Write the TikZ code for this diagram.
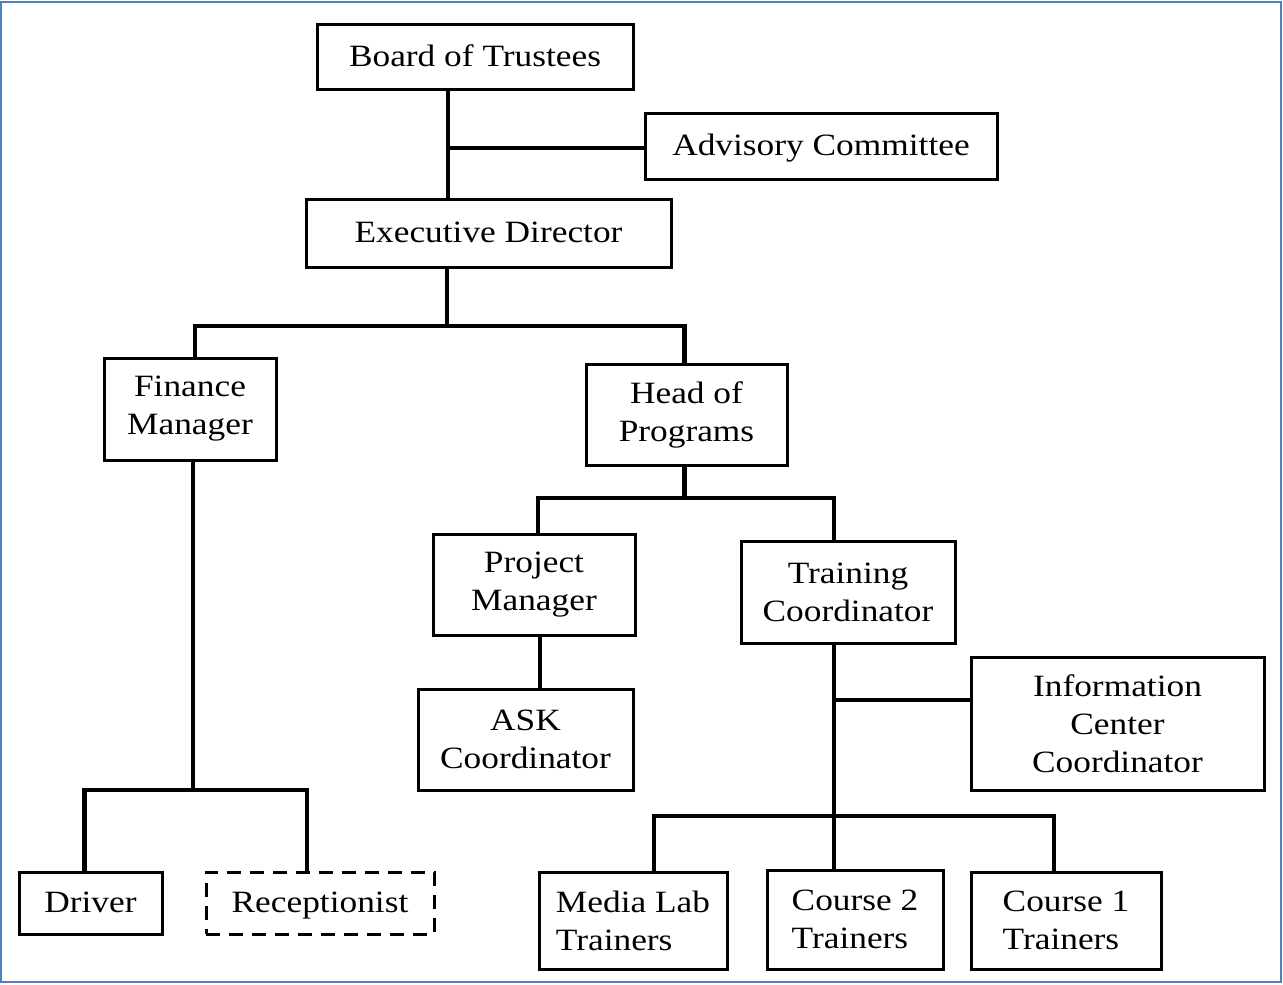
\documentclass[tikz,border=0pt]{standalone}
\usepackage{fontspec}
\setmainfont[FakeStretch=1.14]{Liberation Serif}
\definecolor{borderblue}{RGB}{79,129,189}
\begin{document}
\begin{tikzpicture}[x=1pt,y=-1pt,
  box/.style={draw=black,line width=3pt,rectangle,inner sep=0pt,align=center,font=\fontsize{31}{38}\selectfont},
  sbox/.style={box,text height=24pt,text depth=5pt},
  lbox/.style={box,align=left},
  dbox/.style={sbox,dash pattern=on 14pt off 9pt},
  conn/.style={line width=4.5pt}]
\useasboundingbox (0,0) rectangle (1283,985);
\draw[line width=2pt, draw=borderblue] (1,2) rectangle (1281,982);
% nodes
\node[sbox,minimum width=316,minimum height=65] (bot) at (475,56.5) {Board of Trustees};
\node[sbox,minimum width=352,minimum height=66] (ac) at (821,146) {Advisory Committee};
\node[sbox,minimum width=365,minimum height=68] (ed) at (488.5,233) {Executive Director};
\node[box,minimum width=172,minimum height=102] (fm) at (190,409) {Finance\\Manager};
\node[box,minimum width=201,minimum height=101] (hp) at (686.5,414.5) {Head of\\Programs};
\node[box,minimum width=202,minimum height=101] (pm) at (534,584.5) {Project\\Manager};
\node[box,minimum width=214,minimum height=102] (tc) at (848,592) {Training\\Coordinator};
\node[box,minimum width=215,minimum height=101] (ask) at (525.5,739.5) {ASK\\Coordinator};
\node[box,minimum width=293,minimum height=133] (ic) at (1117.5,723.5) {Information\\Center\\Coordinator};
\node[sbox,minimum width=143,minimum height=62] (dr) at (90.5,903) {Driver};
\node[dbox,minimum width=228,minimum height=62] (rc) at (320,903) {Receptionist};
\node[lbox,minimum width=188,minimum height=97] (ml) at (633,920.5) {Media Lab\\Trainers};
\node[lbox,minimum width=176,minimum height=99] (c2) at (855,919.5) {Course 2\\Trainers};
\node[lbox,minimum width=190,minimum height=97] (c1) at (1066,920.5) {Course 1\\Trainers};
% connectors
\coordinate (j1) at (448,148);
\draw[conn] (bot.south -| j1) -- (ed.north -| j1);
\draw[conn] (j1) -- (j1 -| ac.west);
\coordinate (j2) at (447,326);
\draw[conn] (ed.south -| j2) -- (j2);
\draw[conn] ([xshift=5pt]fm.north) |- (j2) -| ([xshift=-2pt]hp.north);
\coordinate (j3) at (684.5,498);
\draw[conn] ([xshift=-2pt]hp.south) -- (j3);
\draw[conn] ([xshift=4pt]pm.north) |- (j3) -| ([xshift=-14pt]tc.north);
\draw[conn] ([xshift=6pt]pm.south) -- ([xshift=6pt]pm.south |- ask.north);
\coordinate (t0) at ([xshift=-14pt]tc.south);
\draw[conn] (t0) -- (t0 |- c2.north);
\coordinate (j4) at (834,700);
\draw[conn] (j4) -- (j4 -| ic.west);
\coordinate (j5) at (834,816);
\draw[conn] ([xshift=21pt]ml.north) |- (j5) -| ([xshift=-12pt]c1.north);
\coordinate (j6) at (193,790);
\draw[conn] ([xshift=3pt]fm.south) -- (j6);
\draw[conn] ([xshift=-6pt]dr.north) |- (j6) -| ([xshift=-13pt]rc.north);
\end{tikzpicture}
\end{document}
